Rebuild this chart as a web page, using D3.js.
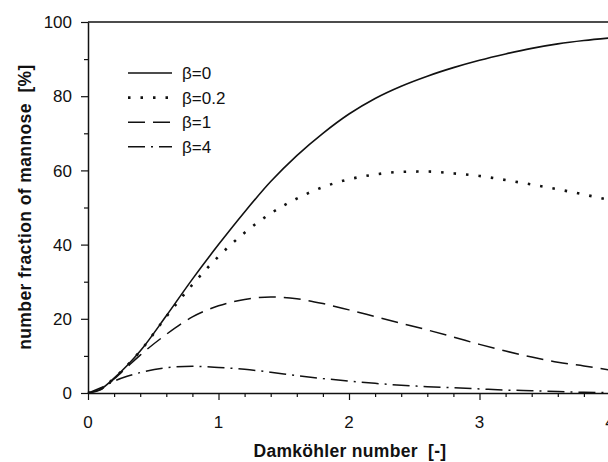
<!DOCTYPE html>
<html>
<head>
<meta charset="utf-8">
<script src="https://cdn.jsdelivr.net/npm/d3@7"></script>
<style>
  body { margin: 0; background: #fff; }
  svg { display: block; }
  text { white-space: pre; }
</style>
</head>
<body>
<div id="chart"></div>
<script>
// Damköhler number vs. number fraction of mannose

// Data
var damkohler = [0, 0.1, 0.2, 0.3, 0.4, 0.6, 0.8, 1.0, 1.2, 1.4, 1.6, 1.8, 2.0, 2.2, 2.4, 2.6, 2.8, 3.0, 3.2, 3.4, 3.6, 3.8, 4.0];
var beta0   = [0, 1.1, 4.0, 7.4, 11.3, 20.8, 30.7, 40.0, 48.8, 57.0, 64.0, 70.0, 75.2, 79.4, 82.7, 85.4, 87.7, 89.7, 91.4, 92.9, 94.1, 95.0, 95.7];
var beta02  = [0, 1.1, 4.0, 7.4, 11.3, 20.6, 29.2, 36.8, 43.2, 48.4, 52.4, 55.5, 57.6, 58.9, 59.6, 59.7, 59.2, 58.5, 57.4, 56.2, 54.9, 53.5, 52.0];
var beta1   = [0, 1.0, 3.8, 7.0, 10.2, 15.8, 20.5, 23.5, 25.2, 25.9, 25.4, 24.1, 22.4, 20.6, 18.8, 17.0, 15.1, 13.1, 11.3, 9.7, 8.3, 7.3, 6.2];
var beta4   = [0, 1.4, 3.2, 4.5, 5.5, 6.8, 7.2, 6.9, 6.4, 5.6, 4.7, 3.9, 3.2, 2.6, 2.1, 1.7, 1.4, 1.1, 0.8, 0.6, 0.4, 0.2, 0.1];

var seriesNames = ["\u03b2=0", "\u03b2=0.2", "\u03b2=1", "\u03b2=4"];
var xTicks = [0, 1, 2, 3, 4];
var yTicks = [0, 20, 40, 60, 80, 100];

// Chart parameters
var W = 608, H = 462;
var margin = { top: 22, left: 88, bottom: 69 };
var ink = "#111";
var fontFamily = "'Liberation Sans', Arial, sans-serif";

var svg = d3.select("#chart").append("svg")
    .attr("width", W)
    .attr("height", H);

// Scales
var x = d3.scaleLinear().domain([0, 4]).range([margin.left, 610]);
var y = d3.scaleLinear().domain([0, 100]).range([H - margin.bottom, margin.top]);

// Line styles
var styles = [
  { dash: null,          width: 1.6 },
  { dash: "2.5,10",      width: 2.6 },
  { dash: "17,8",        width: 1.5 },
  { dash: "17,6,2,6",    width: 1.5 }
];

var series = [beta0, beta02, beta1, beta4].map(function(vals, i) {
  return { name: seriesNames[i], style: styles[i],
           values: vals.map(function(v, j) { return { x: damkohler[j], y: v }; }) };
});

// Axes
var xAxis = d3.axisBottom(x)
    .tickValues(d3.range(0, 4.01, 0.2))
    .tickFormat("")
    .tickSizeInner(4)
    .tickSizeOuter(0);

var yAxis = d3.axisLeft(y)
    .tickValues(d3.range(0, 101, 10))
    .tickFormat("")
    .tickSizeInner(4)
    .tickSizeOuter(0);

var gx = svg.append("g")
    .attr("transform", "translate(0," + y(0) + ")")
    .call(xAxis);

var gy = svg.append("g")
    .attr("transform", "translate(" + x(0) + ",0)")
    .call(yAxis);

[gx, gy].forEach(function(g) {
  g.select(".domain").attr("stroke", ink).attr("stroke-width", 1.5);
  g.selectAll(".tick line").attr("stroke", ink).attr("stroke-width", 1.2);
});

// longer major ticks
gx.selectAll(".tick line")
  .filter(function(d) { return Math.abs(d - Math.round(d)) < 1e-6; })
  .attr("y2", 7);
gy.selectAll(".tick line")
  .filter(function(d) { return d % 20 === 0; })
  .attr("x2", -7);

// top frame line
svg.append("line")
    .attr("x1", x(0)).attr("x2", W)
    .attr("y1", y(100)).attr("y2", y(100))
    .attr("stroke", ink)
    .attr("stroke-width", 1.5);

// tick labels
svg.append("g").selectAll("text")
    .data(xTicks)
    .enter().append("text")
    .attr("x", function(d) { return x(d); })
    .attr("y", y(0) + 35)
    .attr("text-anchor", "middle")
    .style("font", "17px " + fontFamily)
    .style("fill", ink)
    .text(function(d) { return d; });

svg.append("g").selectAll("text")
    .data(yTicks)
    .enter().append("text")
    .attr("x", x(0) - 16)
    .attr("y", function(d) { return y(d); })
    .attr("dy", "0.36em")
    .attr("text-anchor", "end")
    .style("font", "17px " + fontFamily)
    .style("fill", ink)
    .text(function(d) { return d; });

// axis titles
svg.append("text")
    .attr("x", 350)
    .attr("y", 457)
    .attr("text-anchor", "middle")
    .style("font", "bold 17.5px " + fontFamily)
    .style("letter-spacing", "0.3px")
    .style("fill", ink)
    .text("Damk\u00f6hler number  [-]");

svg.append("text")
    .attr("transform", "translate(31,207) rotate(-90)")
    .attr("text-anchor", "middle")
    .style("font", "bold 17.5px " + fontFamily)
    .style("letter-spacing", "0.4px")
    .style("fill", ink)
    .text("number fraction of mannose  [%]");

// Lines
var line = d3.line()
    .x(function(d) { return x(d.x); })
    .y(function(d) { return y(d.y); })
    .curve(d3.curveMonotoneX);

svg.append("g").selectAll("path")
    .data(series)
    .enter().append("path")
    .attr("fill", "none")
    .attr("stroke", ink)
    .attr("stroke-width", function(d) { return d.style.width; })
    .attr("stroke-dasharray", function(d) { return d.style.dash; })
    .attr("d", function(d) { return line(d.values); });

// Legend
var legend = svg.append("g")
    .selectAll("g")
    .data(series)
    .enter().append("g")
    .attr("transform", function(d, i) { return "translate(128," + (73 + i * 24.6) + ")"; });

legend.append("line")
    .attr("x1", 0).attr("x2", 44)
    .attr("stroke", ink)
    .attr("stroke-width", function(d) { return d.style.width; })
    .attr("stroke-dasharray", function(d) { return d.style.dash; });

legend.append("text")
    .attr("x", 54)
    .attr("dy", "0.36em")
    .style("font", "17px " + fontFamily)
    .style("fill", ink)
    .text(function(d) { return d.name; });
</script>
</body>
</html>
